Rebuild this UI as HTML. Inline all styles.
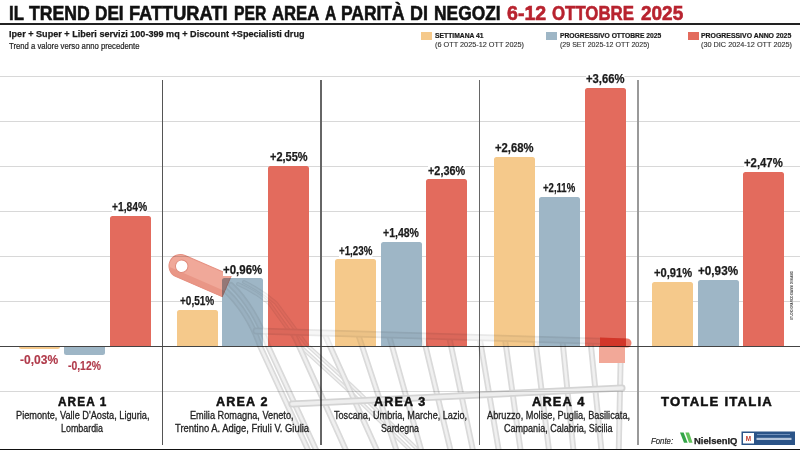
<!DOCTYPE html>
<html><head><meta charset="utf-8">
<style>
*{margin:0;padding:0;box-sizing:border-box}
html,body{width:800px;height:450px;overflow:hidden;background:#fff}
body{position:relative;font-family:"Liberation Sans",sans-serif;color:#1a1a1a}
.t{position:absolute;white-space:nowrap;line-height:1;transform-origin:0 0}
.tline{position:absolute;left:0;top:23px;width:800px;height:2px;background:#222}
.lg{position:absolute;top:32px;width:11.3px;height:7.6px}
.gl{position:absolute;left:0;width:800px;height:1px;background:#d8d8d8}
.dv{position:absolute;top:80px;width:1.3px;height:365px}
.base{position:absolute;left:0;top:345.5px;width:800px;height:1px;background:#444}
.bar{position:absolute;border-radius:2.5px 2.5px 0 0}
.bar.neg{border-radius:0 0 2.5px 2.5px}
.cart{position:absolute;left:0;top:0;mix-blend-mode:multiply}
.bot{position:absolute;left:0;top:448.5px;width:800px;height:1.5px;background:#111}

</style></head><body>
<div class="ng">
<div class="tline"></div>
<div class="lg" style="left:421px;background:#F5C98B"></div>
<div class="lg" style="left:546px;background:#9EB6C6"></div>
<div class="lg" style="left:687.5px;background:#E36B5D"></div>
<div class="gl" style="top:76px"></div><div class="gl" style="top:121px"></div><div class="gl" style="top:166px"></div><div class="gl" style="top:211px"></div><div class="gl" style="top:256px"></div><div class="gl" style="top:301px"></div><div class="gl" style="top:391px"></div><div class="dv" style="left:161.8px;width:1.4px;background:#555"></div><div class="dv" style="left:320.2px;width:1.6px;background:#666"></div><div class="dv" style="left:478.8px;width:1.6px;background:#666"></div><div class="dv" style="left:637.3px;width:1.5px;background:#999"></div>
<div class="bar neg" style="left:18.5px;top:346.0px;width:41px;height:2.7px;background:#F5C98B"></div><div class="bar neg" style="left:64.0px;top:346.0px;width:41px;height:8.5px;background:#9EB6C6"></div><div class="bar" style="left:109.5px;top:216.1px;width:41px;height:129.9px;background:#E36B5D"></div><div class="bar" style="left:176.9px;top:310.0px;width:41px;height:36.0px;background:#F5C98B"></div><div class="bar" style="left:222.4px;top:278.2px;width:41px;height:67.8px;background:#9EB6C6"></div><div class="bar" style="left:267.9px;top:166.0px;width:41px;height:180.0px;background:#E36B5D"></div><div class="bar" style="left:335.3px;top:259.2px;width:41px;height:86.8px;background:#F5C98B"></div><div class="bar" style="left:380.8px;top:241.5px;width:41px;height:104.5px;background:#9EB6C6"></div><div class="bar" style="left:426.3px;top:179.4px;width:41px;height:166.6px;background:#E36B5D"></div><div class="bar" style="left:493.7px;top:156.8px;width:41px;height:189.2px;background:#F5C98B"></div><div class="bar" style="left:539.2px;top:197.0px;width:41px;height:149.0px;background:#9EB6C6"></div><div class="bar" style="left:584.7px;top:87.6px;width:41px;height:258.4px;background:#E36B5D"></div><div class="bar" style="left:652.1px;top:281.8px;width:41px;height:64.2px;background:#F5C98B"></div><div class="bar" style="left:697.6px;top:280.3px;width:41px;height:65.7px;background:#9EB6C6"></div><div class="bar" style="left:743.1px;top:171.6px;width:41px;height:174.4px;background:#E36B5D"></div>
<div class="base"></div>
<svg class="cart" width="800" height="450" viewBox="0 0 800 450"><defs><mask id="cm" maskUnits="userSpaceOnUse" x="0" y="0" width="800" height="450"><rect x="0" y="0" width="800" height="346" fill="#888"/><rect x="0" y="346" width="800" height="104" fill="#fff"/></mask></defs><g mask="url(#cm)"><g fill="none" stroke="#dcdcdc" stroke-width="4" stroke-linecap="round"><path d="M238,284 C252,290 262,297 270,304 L300,346 L346,388 L410,450"/><path d="M244,282 C258,289 268,296 276,303 L306,344 L352,386 L416,448"/></g><g fill="none" stroke="#f2f2f2" stroke-width="1.5" stroke-linecap="round"><path d="M238,284 C252,290 262,297 270,304 L300,346 L346,388 L410,450"/><path d="M244,282 C258,289 268,296 276,303 L306,344 L352,386 L416,448"/></g><g fill="none" stroke="#dadada" stroke-width="6" stroke-linecap="round"><path d="M224,289 C238,302 252,322 260,346 L309,452"/><path d="M231,285 C246,299 260,322 268,346 L317,452"/><path d="M292.8,332.3 L346.7,452"/><path d="M324.2,333.2 L377.7,452"/><path d="M358.1,334.1 L397.0,452"/><path d="M388.9,335.0 L421.7,452"/><path d="M423.1,336.0 L450.9,452"/><path d="M449.1,336.7 L473.3,452"/><path d="M479.6,337.6 L499.0,452"/><path d="M504.9,338.4 L520.8,452"/><path d="M535.2,339.2 L549.2,452"/><path d="M562.4,340.0 L573.6,452"/><path d="M590.5,340.9 L601.6,452"/><path d="M621,342 L618.7,452"/></g><g fill="none" stroke="#f0f0f0" stroke-width="2.6" stroke-linecap="round"><path d="M224,289 C238,302 252,322 260,346 L309,452"/><path d="M231,285 C246,299 260,322 268,346 L317,452"/><path d="M292.8,332.3 L346.7,452"/><path d="M324.2,333.2 L377.7,452"/><path d="M358.1,334.1 L397.0,452"/><path d="M388.9,335.0 L421.7,452"/><path d="M423.1,336.0 L450.9,452"/><path d="M449.1,336.7 L473.3,452"/><path d="M479.6,337.6 L499.0,452"/><path d="M504.9,338.4 L520.8,452"/><path d="M535.2,339.2 L549.2,452"/><path d="M562.4,340.0 L573.6,452"/><path d="M590.5,340.9 L601.6,452"/><path d="M621,342 L618.7,452"/></g><g fill="none" stroke="#d4d4d4" stroke-width="7" stroke-linecap="round"><path d="M256,331 L626,342"/><path d="M292,404 L622,388"/></g><g fill="none" stroke="#eeeeee" stroke-width="3.5" stroke-linecap="round"><path d="M256,331 L626,342"/><path d="M292,404 L622,388"/></g></g><rect x="599" y="346" width="26" height="17" fill="rgb(242,168,152)"/><path d="M600,337.5 L627,338.5 A4.5,4.5 0 0 1 627,347.5 L600,346.5 Z" fill="rgb(236,128,112)"/><g transform="translate(180.5,266) rotate(23.5)"><path d="M0,-11.5 H50.5 V11.5 H0 A11.5,11.5 0 0 1 0,-11.5 Z" fill="rgb(240,168,153)"/><path d="M-9.6,5.2 H50.5 V11.5 H0 A11.5,11.5 0 0 1 -9.6,5.2 Z" fill="rgb(233,150,134)"/><path d="M0,-11.5 H50.5 V11.5 H0 A11.5,11.5 0 0 1 0,-11.5 Z" fill="none" stroke="rgb(230,145,130)" stroke-width="1"/><circle cx="1.2" cy="-0.3" r="6.3" fill="#fff" stroke="rgb(225,140,125)" stroke-width="1"/></g></svg>
<div class="bot"></div>
<div style="position:absolute;left:789.8px;top:320px;font-size:4.4px;line-height:4.6px;color:#444;font-weight:bold;white-space:nowrap;transform-origin:0 0;transform:rotate(-90deg) scaleX(0.64)">STUDIO GRAFICO GIANNI DI BIASIO</div>

<svg class="logo" style="position:absolute;left:0;top:0" width="800" height="450" viewBox="0 0 800 450">
<rect x="741.5" y="431.5" width="53.5" height="13.5" fill="#2B5488"/>
<rect x="743" y="433" width="11" height="10.5" fill="#fff"/>
<text x="748.5" y="441.5" font-family="Liberation Sans" font-size="8" font-weight="bold" fill="#C0392B" text-anchor="middle" transform="translate(748.5 0) scale(0.8 1) translate(-748.5 0)">M</text>
<rect x="757" y="434" width="33" height="1" fill="#6f8fba"/>
<rect x="756.5" y="437.8" width="35" height="2.2" fill="#b4c4da"/>
<polygon points="680,432.5 683.6,432.5 687.6,442.8 684,442.8" fill="#34A548"/>
<polygon points="685.4,432.5 689,432.5 692.6,442.8 689,442.8" fill="#62C25A"/>
</svg>
</div>
<div id="tw0" class="t" style="left:9.07px;top:1.90px;font-size:21px;font-weight:bold;color:#111;letter-spacing:0px;transform:scaleX(0.7979);-webkit-text-stroke:0.60px currentColor;">IL</div>
<div id="tw1" class="t" style="left:29.32px;top:1.90px;font-size:21px;font-weight:bold;color:#111;letter-spacing:0px;transform:scaleX(0.8411);-webkit-text-stroke:0.60px currentColor;">TREND</div>
<div id="tw2" class="t" style="left:95.11px;top:1.90px;font-size:21px;font-weight:bold;color:#111;letter-spacing:0px;transform:scaleX(0.8181);-webkit-text-stroke:0.60px currentColor;">DEI</div>
<div id="tw3" class="t" style="left:129.13px;top:1.90px;font-size:21px;font-weight:bold;color:#111;letter-spacing:0px;transform:scaleX(0.8671);-webkit-text-stroke:0.60px currentColor;">FATTURATI</div>
<div id="tw4" class="t" style="left:234.44px;top:1.90px;font-size:21px;font-weight:bold;color:#111;letter-spacing:0px;transform:scaleX(0.7493);-webkit-text-stroke:0.60px currentColor;">PER</div>
<div id="tw5" class="t" style="left:272.44px;top:1.90px;font-size:21px;font-weight:bold;color:#111;letter-spacing:0px;transform:scaleX(0.7948);-webkit-text-stroke:0.60px currentColor;">AREA</div>
<div id="tw6" class="t" style="left:325.03px;top:1.90px;font-size:21px;font-weight:bold;color:#111;letter-spacing:0px;transform:scaleX(0.7461);-webkit-text-stroke:0.60px currentColor;">A</div>
<div id="tw7" class="t" style="left:341.06px;top:1.70px;font-size:21px;font-weight:bold;color:#111;letter-spacing:0px;transform:scaleX(0.8301);-webkit-text-stroke:0.60px currentColor;">PARITÀ</div>
<div id="tw8" class="t" style="left:409.87px;top:1.90px;font-size:21px;font-weight:bold;color:#111;letter-spacing:0px;transform:scaleX(0.8522);-webkit-text-stroke:0.60px currentColor;">DI</div>
<div id="tw9" class="t" style="left:433.76px;top:1.90px;font-size:21px;font-weight:bold;color:#111;letter-spacing:0px;transform:scaleX(0.8283);-webkit-text-stroke:0.60px currentColor;">NEGOZI</div>
<div id="tw10" class="t" style="left:506.78px;top:1.90px;font-size:21px;font-weight:bold;color:#B8232F;letter-spacing:0px;transform:scaleX(0.9332);-webkit-text-stroke:0.60px currentColor;">6-12</div>
<div id="tw11" class="t" style="left:552.04px;top:1.90px;font-size:21px;font-weight:bold;color:#B8232F;letter-spacing:0px;transform:scaleX(0.8017);-webkit-text-stroke:0.60px currentColor;">OTTOBRE</div>
<div id="tw12" class="t" style="left:641.43px;top:1.90px;font-size:21px;font-weight:bold;color:#B8232F;letter-spacing:0px;transform:scaleX(0.9040);-webkit-text-stroke:0.60px currentColor;">2025</div>
<div id="sub" class="t" style="left:9.46px;top:29.30px;font-size:9.8px;font-weight:bold;color:#1a1a1a;letter-spacing:0px;transform:scaleX(0.9277);-webkit-text-stroke:0.25px currentColor;">Iper + Super + Liberi servizi 100-399 mq + Discount +Specialisti drug</div>
<div id="sub2" class="t" style="left:9.49px;top:42.40px;font-size:8.4px;font-weight:normal;color:#222;letter-spacing:0px;transform:scaleX(0.9211);-webkit-text-stroke:0.20px currentColor;">Trend a valore verso anno precedente</div>
<div id="l1a" class="t" style="left:434.72px;top:33.28px;font-size:6.6px;font-weight:bold;color:#1a1a1a;letter-spacing:0px;transform:scaleX(1.0252);-webkit-text-stroke:0.20px currentColor;">SETTIMANA 41</div>
<div id="l1b" class="t" style="left:434.72px;top:41.84px;font-size:6.8px;font-weight:normal;color:#333;letter-spacing:0px;transform:scaleX(1.0744);-webkit-text-stroke:0.12px currentColor;">(6 OTT 2025-12 OTT 2025)</div>
<div id="l2a" class="t" style="left:559.81px;top:33.28px;font-size:6.6px;font-weight:bold;color:#1a1a1a;letter-spacing:0px;transform:scaleX(1.0212);-webkit-text-stroke:0.20px currentColor;">PROGRESSIVO OTTOBRE 2025</div>
<div id="l2b" class="t" style="left:559.80px;top:41.84px;font-size:6.8px;font-weight:normal;color:#333;letter-spacing:0px;transform:scaleX(1.0363);-webkit-text-stroke:0.12px currentColor;">(29 SET 2025-12 OTT 2025)</div>
<div id="l3a" class="t" style="left:701.00px;top:33.28px;font-size:6.6px;font-weight:bold;color:#1a1a1a;letter-spacing:0px;transform:scaleX(1.0465);-webkit-text-stroke:0.20px currentColor;">PROGRESSIVO ANNO 2025</div>
<div id="l3b" class="t" style="left:700.92px;top:41.84px;font-size:6.8px;font-weight:normal;color:#333;letter-spacing:0px;transform:scaleX(1.0727);-webkit-text-stroke:0.12px currentColor;">(30 DIC 2024-12 OTT 2025)</div>
<div id="a1" class="t" style="left:58.47px;top:395.10px;font-size:13px;font-weight:bold;color:#111;letter-spacing:1.2px;transform:scaleX(0.9060);-webkit-text-stroke:0.50px currentColor;">AREA 1</div>
<div id="a2" class="t" style="left:216.00px;top:395.00px;font-size:13px;font-weight:bold;color:#111;letter-spacing:1.2px;transform:scaleX(0.9658);-webkit-text-stroke:0.50px currentColor;">AREA 2</div>
<div id="a3" class="t" style="left:374.48px;top:395.00px;font-size:13px;font-weight:bold;color:#111;letter-spacing:1.2px;transform:scaleX(0.9642);-webkit-text-stroke:0.50px currentColor;">AREA 3</div>
<div id="a4" class="t" style="left:531.54px;top:395.00px;font-size:13px;font-weight:bold;color:#111;letter-spacing:1.2px;transform:scaleX(0.9834);-webkit-text-stroke:0.50px currentColor;">AREA 4</div>
<div id="a5" class="t" style="left:661.38px;top:394.80px;font-size:13px;font-weight:bold;color:#111;letter-spacing:1.2px;transform:scaleX(1.0095);-webkit-text-stroke:0.50px currentColor;">TOTALE ITALIA</div>
<div id="s1a" class="t" style="left:15.53px;top:410.04px;font-size:10.8px;font-weight:normal;color:#222;letter-spacing:0px;transform:scaleX(0.8521);-webkit-text-stroke:0.30px currentColor;">Piemonte, Valle D'Aosta, Liguria,</div>
<div id="s1b" class="t" style="left:61.42px;top:422.84px;font-size:10.8px;font-weight:normal;color:#222;letter-spacing:0px;transform:scaleX(0.8234);-webkit-text-stroke:0.30px currentColor;">Lombardia</div>
<div id="s2a" class="t" style="left:190.14px;top:410.04px;font-size:10.8px;font-weight:normal;color:#222;letter-spacing:0px;transform:scaleX(0.8501);-webkit-text-stroke:0.30px currentColor;">Emilia Romagna, Veneto,</div>
<div id="s2b" class="t" style="left:175.00px;top:423.04px;font-size:10.8px;font-weight:normal;color:#222;letter-spacing:0px;transform:scaleX(0.8701);-webkit-text-stroke:0.30px currentColor;">Trentino A. Adige, Friuli V. Giulia</div>
<div id="s3a" class="t" style="left:333.68px;top:410.04px;font-size:10.8px;font-weight:normal;color:#222;letter-spacing:0px;transform:scaleX(0.8432);-webkit-text-stroke:0.30px currentColor;">Toscana, Umbria, Marche, Lazio,</div>
<div id="s3b" class="t" style="left:381.14px;top:422.84px;font-size:10.8px;font-weight:normal;color:#222;letter-spacing:0px;transform:scaleX(0.8107);-webkit-text-stroke:0.30px currentColor;">Sardegna</div>
<div id="s4a" class="t" style="left:486.85px;top:410.04px;font-size:10.8px;font-weight:normal;color:#222;letter-spacing:0px;transform:scaleX(0.8516);-webkit-text-stroke:0.30px currentColor;">Abruzzo, Molise, Puglia, Basilicata,</div>
<div id="s4b" class="t" style="left:504.15px;top:423.04px;font-size:10.8px;font-weight:normal;color:#222;letter-spacing:0px;transform:scaleX(0.8368);-webkit-text-stroke:0.30px currentColor;">Campania, Calabria, Sicilia</div>
<div id="fonte" class="t" style="left:651.49px;top:436.70px;font-size:8.5px;font-weight:normal;color:#2a2a2a;letter-spacing:0px;transform:scaleX(0.9145);font-style:italic;-webkit-text-stroke:0.20px currentColor;">Fonte:</div>
<div id="niq" class="t" style="left:694.05px;top:437.96px;font-size:8.2px;font-weight:bold;color:#222;letter-spacing:0px;transform:scaleX(1.1462);-webkit-text-stroke:0.25px currentColor;">NielsenIQ</div>
<div id="b00" class="t" style="left:20.25px;top:354.49px;font-size:12.6px;font-weight:bold;color:#B03A4A;letter-spacing:0px;transform:scaleX(0.9555);-webkit-text-stroke:0.15px currentColor;">-0,03%</div>
<div id="b01" class="t" style="left:68.00px;top:360.21px;font-size:12.6px;font-weight:bold;color:#B03A4A;letter-spacing:0px;transform:scaleX(0.8250);-webkit-text-stroke:0.15px currentColor;">-0,12%</div>
<div id="b02" class="t" style="left:112.40px;top:201.46px;font-size:12.6px;font-weight:bold;color:#1a1a1a;letter-spacing:0px;transform:scaleX(0.8164);background:#fff;-webkit-text-stroke:0.25px currentColor;">+1,84%</div>
<div id="b10" class="t" style="left:180.00px;top:295.19px;font-size:12.6px;font-weight:bold;color:#1a1a1a;letter-spacing:0px;transform:scaleX(0.7963);background:#fff;-webkit-text-stroke:0.25px currentColor;">+0,51%</div>
<div id="b11" class="t" style="left:223.10px;top:263.82px;font-size:12.6px;font-weight:bold;color:#1a1a1a;letter-spacing:0px;transform:scaleX(0.9110);background:#fff;-webkit-text-stroke:0.25px currentColor;">+0,96%</div>
<div id="b12" class="t" style="left:269.79px;top:151.25px;font-size:12.6px;font-weight:bold;color:#1a1a1a;letter-spacing:0px;transform:scaleX(0.8744);background:#fff;-webkit-text-stroke:0.25px currentColor;">+2,55%</div>
<div id="b20" class="t" style="left:339.07px;top:244.80px;font-size:12.6px;font-weight:bold;color:#1a1a1a;letter-spacing:0px;transform:scaleX(0.7740);background:#fff;-webkit-text-stroke:0.25px currentColor;">+1,23%</div>
<div id="b21" class="t" style="left:383.41px;top:227.15px;font-size:12.6px;font-weight:bold;color:#1a1a1a;letter-spacing:0px;transform:scaleX(0.8340);background:#fff;-webkit-text-stroke:0.25px currentColor;">+1,48%</div>
<div id="b22" class="t" style="left:428.48px;top:164.78px;font-size:12.6px;font-weight:bold;color:#1a1a1a;letter-spacing:0px;transform:scaleX(0.8625);background:#fff;-webkit-text-stroke:0.25px currentColor;">+2,36%</div>
<div id="b30" class="t" style="left:494.53px;top:141.83px;font-size:12.6px;font-weight:bold;color:#1a1a1a;letter-spacing:0px;transform:scaleX(0.8950);background:#fff;-webkit-text-stroke:0.25px currentColor;">+2,68%</div>
<div id="b31" class="t" style="left:542.88px;top:182.43px;font-size:12.6px;font-weight:bold;color:#1a1a1a;letter-spacing:0px;transform:scaleX(0.7601);background:#fff;-webkit-text-stroke:0.25px currentColor;">+2,11%</div>
<div id="b32" class="t" style="left:585.53px;top:72.60px;font-size:12.6px;font-weight:bold;color:#1a1a1a;letter-spacing:0px;transform:scaleX(0.8950);background:#fff;-webkit-text-stroke:0.25px currentColor;">+3,66%</div>
<div id="b40" class="t" style="left:654.08px;top:266.75px;font-size:12.6px;font-weight:bold;color:#1a1a1a;letter-spacing:0px;transform:scaleX(0.8837);background:#fff;-webkit-text-stroke:0.25px currentColor;">+0,91%</div>
<div id="b41" class="t" style="left:697.68px;top:265.38px;font-size:12.6px;font-weight:bold;color:#1a1a1a;letter-spacing:0px;transform:scaleX(0.9302);background:#fff;-webkit-text-stroke:0.25px currentColor;">+0,93%</div>
<div id="b42" class="t" style="left:744.29px;top:156.74px;font-size:12.6px;font-weight:bold;color:#1a1a1a;letter-spacing:0px;transform:scaleX(0.8993);background:#fff;-webkit-text-stroke:0.25px currentColor;">+2,47%</div>
</body></html>
